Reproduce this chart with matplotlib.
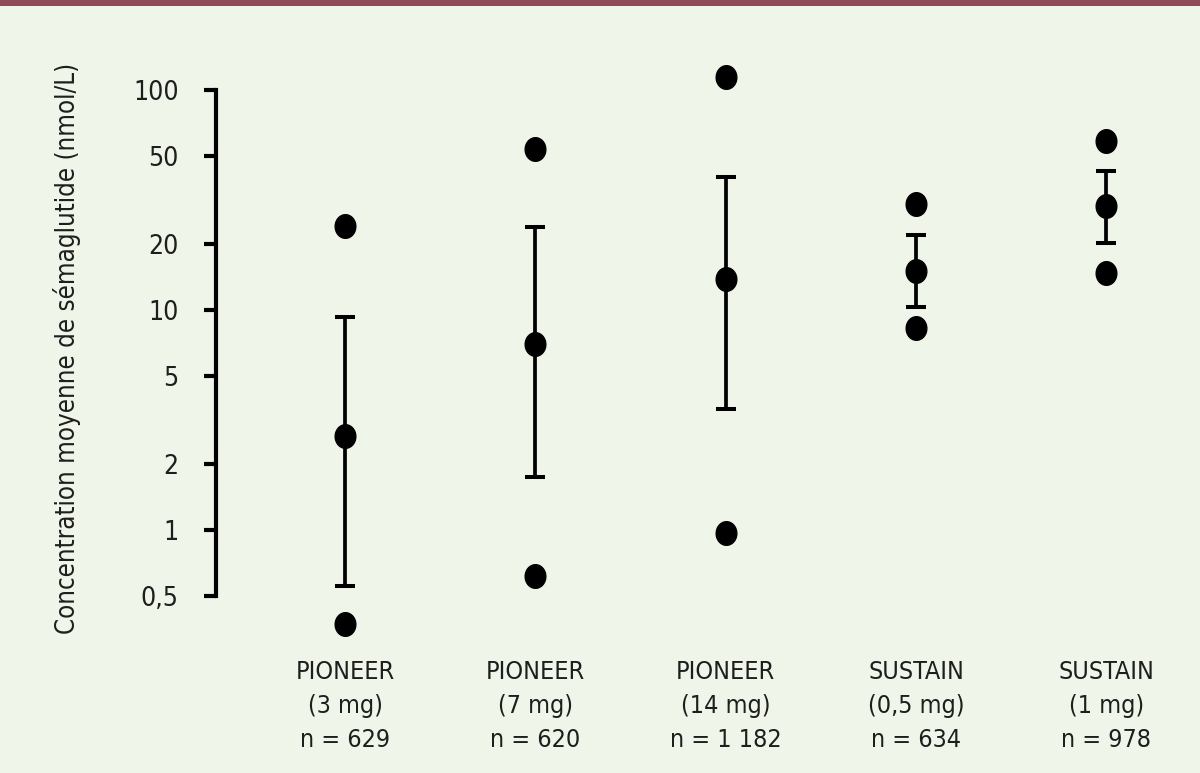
import numpy as np
import matplotlib
matplotlib.use("Agg")
import matplotlib.pyplot as plt
from matplotlib.path import Path
from matplotlib.patches import Rectangle

# ---- data ----
categories = ["PIONEER\n(3 mg)\nn = 629", "PIONEER\n(7 mg)\nn = 620", "PIONEER\n(14 mg)\nn = 1 182",
              "SUSTAIN\n(0,5 mg)\nn = 634", "SUSTAIN\n(1 mg)\nn = 978"]
mean_vals = [2.68, 6.98, 13.9, 15.0, 29.6]
err_low = [0.558, 1.75, 3.54, 10.3, 20.2]
err_high = [9.26, 23.8, 40.1, 22.0, 42.7]
dot_high = [24.1, 53.9, 115.0, 30.3, 58.8]
dot_low = [0.374, 0.618, 0.966, 8.26, 14.8]
yticks = [0.5, 1, 2, 5, 10, 20, 50, 100]
ytick_labels = ["0,5", "1", "2", "5", "10", "20", "50", "100"]
ylabel = "Concentration moyenne de sémaglutide (nmol/L)"

BG = "#EFF6E9"
TXT = "#1E1E1E"
FONT = ["Liberation Sans Narrow", "DejaVu Sans"]
plt.rcParams['font.family'] = FONT
plt.rcParams['font.stretch'] = 'condensed'

fig = plt.figure(figsize=(12, 7.73), dpi=100, facecolor=BG)
fig.patches.append(Rectangle((0, 1 - 6 / 773), 1, 6 / 773, transform=fig.transFigure,
                             facecolor="#8E4A58", edgecolor="none", zorder=5))

ax = fig.add_axes([0.18, 0.1656, 0.8117, 0.768])
ax.set_facecolor(BG)
ax.set_yscale('log')
ax.set_ylim(0.3, 150)
ax.set_xlim(-0.678, 4.44)

x = np.arange(len(categories))
# ellipse marker (slightly taller than wide)
t = np.linspace(0, 2 * np.pi, 60)
ell = Path(np.column_stack([0.875 * np.cos(t), np.sin(t)]), closed=True)

lo = np.array(mean_vals) - np.array(err_low)
hi = np.array(err_high) - np.array(mean_vals)
ax.errorbar(x, mean_vals, yerr=[lo, hi], fmt='none', ecolor='black', elinewidth=2.7,
            capsize=7, capthick=2.9, zorder=2)
for ys in (mean_vals, dot_high, dot_low):
    ax.plot(x, ys, linestyle='none', marker=ell, markersize=17, color='black', zorder=3)

for s in ('top', 'right', 'bottom'):
    ax.spines[s].set_visible(False)
ax.spines['left'].set_linewidth(3)
ax.spines['left'].set_bounds(0.5, 100)
ax.yaxis.set_minor_locator(matplotlib.ticker.NullLocator())
ax.set_yticks(yticks)
ax.set_yticklabels(ytick_labels)
ax.tick_params(axis='y', length=9, width=3, pad=18, labelsize=19, labelcolor=TXT)
ax.set_xticks(x)
ax.set_xticklabels(categories, fontsize=18, color=TXT, linespacing=1.52)
ax.tick_params(axis='x', length=0, pad=11)
ax.set_ylabel(ylabel, fontsize=18.5, color=TXT)
ax.yaxis.set_label_coords(-0.139, 0.50)

fig.savefig("out.png", dpi=100, facecolor=BG)
